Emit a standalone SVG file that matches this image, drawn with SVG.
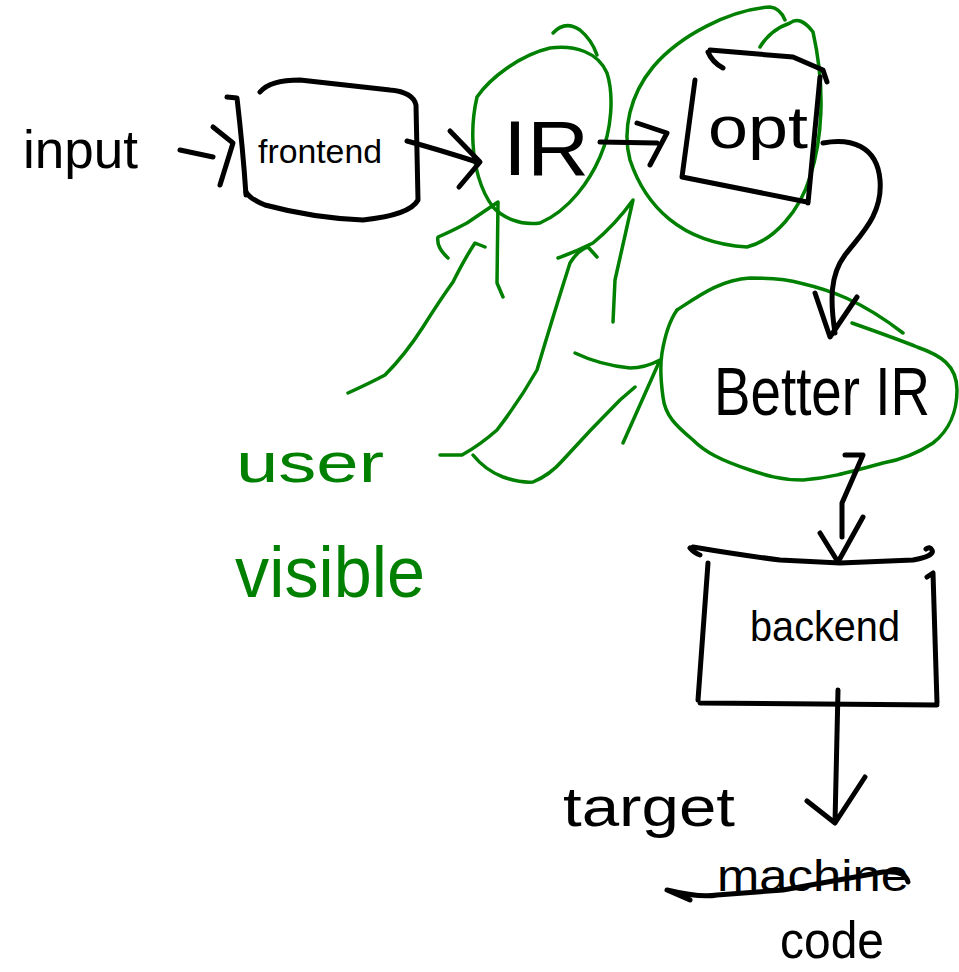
<svg xmlns="http://www.w3.org/2000/svg" width="959" height="972" viewBox="0 0 959 972">
<style>
.k{fill:none;stroke:#000;stroke-width:5;stroke-linecap:round;stroke-linejoin:round}
.g{fill:none;stroke:#008000;stroke-width:3.5;stroke-linecap:round;stroke-linejoin:round}
.t{font-family:"Liberation Sans",Arial,sans-serif;fill:#000}
.tg{font-family:"Liberation Sans",Arial,sans-serif;fill:#008000}
</style>
<rect width="959" height="972" fill="#fff"/>
<g id="input">
<text class="t" x="23" y="168" font-size="54" textLength="115" lengthAdjust="spacingAndGlyphs">input</text>
</g>
<g id="frontend">
<path class="k" d="M227,97 L237,98 Q243,150 246,195"/>
<path class="k" d="M260,92 Q270,80 300,80 L390,90 Q413,92 416,105 L418,200 Q410,215 363,220 Q313,218 265,205 Q250,199 246,192"/>
<text class="t" x="258" y="163" font-size="34" textLength="124" lengthAdjust="spacingAndGlyphs">frontend</text>
</g>
<g id="IR">
<path class="g" d="M477,97 C490,78 520,55 550,48 C575,45 598,52 607,73 C614,95 612,130 600,157 C590,180 570,210 540,223 C520,226 502,217 493,207 C480,190 474,165 473,143 C472,125 474,110 477,97 Z"/>
<path class="g" d="M553,33 Q565,20 580,30 Q592,40 597,55"/>
<text class="t" x="503" y="175" font-size="78" textLength="86" lengthAdjust="spacingAndGlyphs">IR</text>
</g>
<g id="opt">
<path class="g" d="M785,20 Q780,8 770,7 C730,10 680,35 653,67 C630,95 622,130 630,160 C645,205 680,243 747,247 C775,240 800,210 810,177 C822,140 826,90 813,32 Q800,15 790,23 Q770,30 760,47"/>
<path class="k" d="M708,52 Q712,62 723,68 M710,50 L793,57 L823,70 L827,82 M695,80 L682,177 L807,202 M820,77 L808,203"/>
<text class="t" x="708" y="148" font-size="60" textLength="100" lengthAdjust="spacingAndGlyphs">opt</text>
</g>
<g id="betterIR">
<path class="g" d="M677,310 C700,295 720,280 750,278 C770,278 790,280 800,283 C830,290 860,300 903,333"/>
<path class="g" d="M852,323 C880,333 900,340 917,347 C940,355 957,365 957,390 C957,410 950,430 933,443 C915,455 900,460 883,463 C850,472 830,478 803,480 C780,480 765,475 750,470 C720,460 705,452 693,440 C675,425 665,415 663,397 C660,375 660,365 662,353 C665,335 670,320 677,310"/>
<text class="t" x="714" y="415" font-size="68" textLength="216" lengthAdjust="spacingAndGlyphs">Better IR</text>
</g>
<g id="backend">
<path class="k" d="M690,548 Q694,553 700,555 M693,547 Q740,555 780,560 L840,563 L913,560 Q935,556 932,550 Q930,546 926,549 M708,563 L698,700 M700,703 L937,705 M927,577 L933,573 L937,703"/>
<text class="t" x="750" y="641" font-size="42" textLength="150" lengthAdjust="spacingAndGlyphs">backend</text>
</g>
<g id="output">
<text class="t" x="563" y="826" font-size="56" textLength="172" lengthAdjust="spacingAndGlyphs">target</text>
<text class="t" x="717" y="891" font-size="44" textLength="192" lengthAdjust="spacingAndGlyphs">machine</text>
<path class="k" d="M667,890 Q700,898 717,895 L783,890 L883,872 Q905,870 908,882 M667,890 L690,900"/>
<text class="t" x="780" y="958" font-size="52" textLength="104" lengthAdjust="spacingAndGlyphs">code</text>
</g>
<g id="userVisible">
<text class="tg" x="236" y="482" font-size="56" textLength="148" lengthAdjust="spacingAndGlyphs">user</text>
<text class="tg" x="235" y="597" font-size="72" textLength="190" lengthAdjust="spacingAndGlyphs">visible</text>
</g>
<g id="connectors">
<path class="k" d="M180,150 L213,157 M213,127 L233,143 L220,185"/>
<path class="k" d="M407,141 Q440,150 477,162 M450,131 L480,162 L459,187"/>
<path class="k" d="M600,142 L657,143 M637,123 L667,133 L650,165"/>
<path class="k" d="M823,143 C850,138 877,145 880,180 C883,215 860,235 845,255 C830,275 830,300 835,333 M815,293 L830,337 L857,297"/>
<path class="k" d="M845,455 L863,455 L842,503 L842,537 M820,533 L838,562 L863,517"/>
<path class="k" d="M838,690 L835,823 M807,801 L835,823 L865,777"/>
<path class="g" d="M348,393 Q370,383 385,375 Q405,355 423,327 Q440,300 453,282 Q465,258 475,243 L485,247"/>
<path class="g" d="M448,258 Q436,247 438,237 Q450,232 467,223 L498,202 L497,283 L503,297"/>
<path class="g" d="M440,455 L462,455 Q480,445 497,430 Q520,400 537,370 Q555,310 570,263 Q578,250 588,247 L597,257"/>
<path class="g" d="M558,258 Q575,252 593,243 Q615,225 633,200 L615,280 L613,322"/>
<path class="g" d="M473,455 Q485,470 503,477 Q520,483 533,482 Q550,475 563,460 Q590,430 620,400 L635,387"/>
<path class="g" d="M575,353 Q600,365 630,368 Q645,368 660,360 L623,443"/>
</g>
</svg>
